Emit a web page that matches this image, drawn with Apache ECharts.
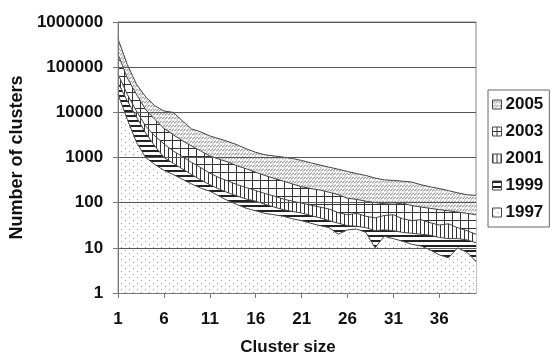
<!DOCTYPE html>
<html>
<head>
<meta charset="utf-8">
<script src="https://cdn.jsdelivr.net/npm/echarts@6/dist/echarts.min.js"></script>
<style>
  html, body { margin: 0; padding: 0; background: #fff; }
  #chart { width: 555px; height: 361px; }
</style>
</head>
<body>
<div id="chart"></div>
<script>
// cluster sizes 1..40
const clusterSizes = [];
for (let i = 1; i <= 40; i++) clusterSizes.push(String(i));

const yearNames = ['2005', '2003', '2001', '1999', '1997'];

// number of clusters
const y2005 = [420000, 115000, 42000, 22000, 14000, 10700, 10000, 6500, 4300, 3700,
  3000, 2600, 2250, 1900, 1550, 1300, 1150, 1080, 1020, 950,
  860, 760, 680, 610, 550, 490, 440, 400, 350, 320,
  310, 300, 285, 250, 225, 205, 185, 165, 150, 145];
const y2003 = [190000, 58000, 25000, 11500, 7000, 4400, 3200, 2350, 1800, 1400,
  1080, 920, 790, 650, 560, 470, 400, 345, 300, 260,
  225, 205, 190, 170, 150, 125, 118, 108, 100, 95,
  92, 98, 86, 80, 75, 70, 66, 62, 58, 54];
const y2001 = [70000, 25000, 10700, 5000, 3000, 2000, 1400, 1050, 780, 600,
  450, 360, 300, 250, 215, 185, 160, 140, 120, 108,
  98, 88, 80, 72, 60, 54, 58, 50, 46, 52,
  54, 44, 40, 42, 36, 32, 34, 28, 24, 20];
const y1999 = [45000, 18000, 7900, 3500, 1800, 1000, 750, 560, 420, 320,
  250, 200, 165, 140, 120, 108, 92, 80, 70, 64,
  59, 52, 46, 40, 35, 31, 30, 28, 24, 25,
  24, 22, 21, 20, 19, 17, 16, 16, 15, 13];
const y1997 = [25000, 7000, 2200, 1000, 700, 520, 420, 330, 260, 210,
  180, 140, 110, 90, 75, 66, 58, 54, 50, 44,
  40, 35, 31, 28, 20, 25, 26, 22, 10, 18,
  16, 14, 12, 11, 9, 7, 6, 10, 8, 5];

const yTicks = [1, 10, 100, 1000, 10000, 100000, 1000000];

// little canvas tiles for the black & white fills
function tile(w, h, draw) {
  const c = document.createElement('canvas');
  c.width = w; c.height = h;
  const ctx = c.getContext('2d');
  ctx.fillStyle = '#fff';
  ctx.fillRect(0, 0, w, h);
  draw(ctx);
  return { image: c, repeat: 'repeat' };
}

const patterns = {
  '2005': tile(6, 4, ctx => {
    ctx.strokeStyle = '#666';
    ctx.lineWidth = 1;
    ctx.beginPath();
    ctx.moveTo(0, 3.5); ctx.lineTo(3, 0.5);
    ctx.moveTo(3, 3.5); ctx.lineTo(6, 0.5);
    ctx.stroke();
  }),
  '2003': tile(8, 8, ctx => {
    ctx.fillStyle = '#333';
    ctx.fillRect(0, 4, 8, 1);
    ctx.fillRect(4, 0, 1, 8);
  }),
  '2001': tile(4, 4, ctx => {
    ctx.fillStyle = '#333';
    ctx.fillRect(0, 0, 1, 4);
  }),
  '1999': tile(4, 5, ctx => {
    ctx.fillStyle = '#222';
    ctx.fillRect(0, 0, 4, 2);
  }),
  '1997': tile(8, 6, ctx => {
    ctx.fillStyle = '#9a9a9a';
    ctx.fillRect(1, 1, 1, 1);
    ctx.fillRect(5, 4, 1, 1);
  })
};

const seriesData = { '2005': y2005, '2003': y2003, '2001': y2001, '1999': y1999, '1997': y1997 };

const myChart = echarts.init(document.getElementById('chart'));

const font = 'Liberation Sans, Arial';

const option = {
  animation: false,
  grid: {
    left: 117, right: 79, top: 22, bottom: 65,
    show: true, borderColor: '#888', borderWidth: 1, backgroundColor: 'transparent'
  },
  legend: {
    orient: 'vertical',
    left: 488, top: 90,
    itemWidth: 9, itemHeight: 9, itemGap: 10,
    padding: [6, 6, 6, 4],
    borderColor: '#666', borderWidth: 1,
    icon: 'rect',
    textStyle: { fontFamily: font, fontSize: 17, fontWeight: 'bold', color: '#111', padding: [0, 0, 0, -1] },
    data: yearNames.map(n => ({
      name: n,
      itemStyle: { color: patterns[n], borderColor: '#444', borderWidth: 1 }
    }))
  },
  xAxis: {
    type: 'category',
    data: clusterSizes,
    boundaryGap: false,
    name: 'Cluster size',
    nameLocation: 'middle',
    nameGap: 46,
    nameTextStyle: { fontFamily: font, fontSize: 17, fontWeight: 'bold', color: '#111', padding: [0, 18, 0, 0] },
    axisLine: { lineStyle: { color: '#777' } },
    axisTick: { interval: 4, length: 5, lineStyle: { color: '#777' } },
    axisLabel: { interval: 4, margin: 18, fontFamily: font, fontSize: 17, fontWeight: 'bold', color: '#111' },
    splitLine: { show: false },
    z: 10
  },
  yAxis: {
    type: 'log',
    logBase: 10,
    min: 1,
    max: 1000000,
    name: 'Number of clusters',
    nameLocation: 'middle',
    nameGap: 92,
    nameTextStyle: { fontFamily: font, fontSize: 18, fontWeight: 'bold', color: '#111' },
    axisLine: { show: true, lineStyle: { color: '#777' } },
    axisTick: { show: true, length: 5, lineStyle: { color: '#777' } },
    axisLabel: {
      margin: 15,
      fontFamily: font, fontSize: 17, fontWeight: 'bold', color: '#111',
      formatter: v => String(yTicks.find(t => Math.abs(t - v) / t < 1e-6) || Math.round(v))
    },
    splitLine: { show: true, lineStyle: { color: '#555', width: 1 } },
    z: 10
  },
  series: yearNames.map(n => ({
    name: n,
    type: 'line',
    data: seriesData[n],
    showSymbol: false,
    symbol: 'none',
    itemStyle: { color: patterns[n] },
    lineStyle: { color: '#444', width: 1 },
    areaStyle: { color: patterns[n], opacity: 1, origin: 'start' }
  }))
};

myChart.setOption(option);
</script>
</body>
</html>
